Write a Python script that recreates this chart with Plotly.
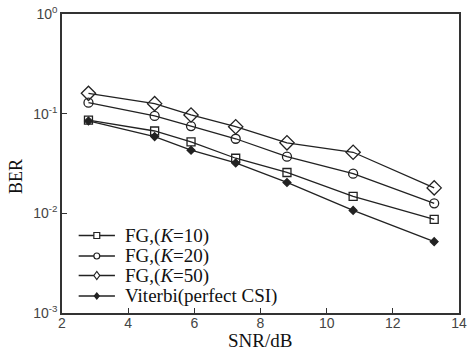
import plotly.graph_objects as go

snr = [2.8, 4.8, 5.9, 7.25, 8.8, 10.8, 13.25]
ber_k10 = [0.086, 0.067, 0.052, 0.0357, 0.0257, 0.0148, 0.0087]
ber_k20 = [0.129, 0.095, 0.075, 0.056, 0.037, 0.025, 0.0126]
ber_k50 = [0.160, 0.126, 0.097, 0.074, 0.051, 0.041, 0.018]
ber_vit = [0.0845, 0.0589, 0.043, 0.032, 0.0204, 0.0107, 0.0052]

names = ["FG,(<i>K</i>=10)", "FG,(<i>K</i>=20)", "FG,(<i>K</i>=50)", "Viterbi(perfect CSI)"]
x_ticks = [2, 4, 6, 8, 10, 12, 14]
y_ticks = [1e-3, 1e-2, 1e-1, 1]
y_labels = ["10<sup>-3</sup>", "10<sup>-2</sup>", "10<sup>-1</sup>", "10<sup>0</sup>"]

W, H = 469, 350
ML, MR, MT, MB = 62, 2, 14, 37
PW, PH = W - ML - MR, H - MT - MB


def X(px):
    return (px - ML) / PW


def Y(py):
    return (H - MB - py) / PH


lc = "#222222"
fig = go.Figure()
series = [
    (ber_k10, "square-open", 8),
    (ber_k20, "circle-open", 9),
    (ber_k50, "diamond-open", 11),
    (ber_vit, "diamond", 6),
]
for (vals, sym, sz), nm in zip(series, names):
    fig.add_trace(go.Scatter(
        x=snr, y=vals, name=nm, mode="lines+markers", showlegend=False,
        line=dict(color=lc, width=1.3),
        marker=dict(symbol=sym, size=sz, color=lc, line=dict(color=lc, width=1.3)),
    ))

# manual legend (keys as shapes, labels as annotations)
rows = [235.5, 256, 275.5, 296]
lx0, lx1, mx, tx = 79, 116, 97.5, 124
shapes = []
annotations = []
for i, (yy, nm) in enumerate(zip(rows, names)):
    shapes.append(dict(type="line", xref="paper", yref="paper",
                       x0=X(lx0), x1=X(lx1), y0=Y(yy), y1=Y(yy),
                       line=dict(color=lc, width=1.3)))
    if i == 0:
        s = 3
        shapes.append(dict(type="rect", xref="paper", yref="paper",
                           x0=X(mx - s), x1=X(mx + s), y0=Y(yy + s), y1=Y(yy - s),
                           fillcolor="white", line=dict(color=lc, width=1.2)))
    elif i == 1:
        s = 3
        shapes.append(dict(type="circle", xref="paper", yref="paper",
                           x0=X(mx - s), x1=X(mx + s), y0=Y(yy + s), y1=Y(yy - s),
                           fillcolor="white", line=dict(color=lc, width=1.2)))
    else:
        sw, sh = (3, 4) if i == 2 else (2.5, 3)
        path = "M {},{} L {},{} L {},{} L {},{} Z".format(
            X(mx - sw), Y(yy), X(mx), Y(yy - sh), X(mx + sw), Y(yy), X(mx), Y(yy + sh))
        shapes.append(dict(type="path", xref="paper", yref="paper", path=path,
                           fillcolor="white" if i == 2 else lc, line=dict(color=lc, width=1.2)))
    annotations.append(dict(text=nm, xref="paper", yref="paper", x=X(tx), y=Y(yy),
                            xanchor="left", yanchor="middle", showarrow=False,
                            font=dict(family="Liberation Serif", size=19, color="#111")))

annotations.append(dict(text="SNR/dB", xref="paper", yref="paper", x=X(264), y=Y(340),
                        xanchor="center", yanchor="middle", showarrow=False,
                        font=dict(family="Liberation Serif", size=19, color="#111")))
annotations.append(dict(text="BER", xref="paper", yref="paper", x=X(15), y=Y(176),
                        xanchor="center", yanchor="middle", showarrow=False, textangle=-90,
                        font=dict(family="Liberation Serif", size=18, color="#111")))

fig.update_layout(
    width=W, height=H,
    margin=dict(l=ML, r=MR, t=MT, b=MB),
    plot_bgcolor="white", paper_bgcolor="white",
    showlegend=False,
    shapes=shapes, annotations=annotations,
)
fig.update_xaxes(
    range=[2, 14], tickvals=x_ticks, ticks="inside", ticklen=5, tickcolor="#333",
    showline=True, linecolor="#333", linewidth=1.5, mirror=True, showgrid=False, zeroline=False,
    tickfont=dict(family="Liberation Sans", size=14, color="#444"),
    ticklabeloverflow="allow", ticklabelstandoff=-4,
)
fig.update_yaxes(
    type="log", range=[-3, 0], tickvals=y_ticks, ticktext=y_labels, ticks="inside", ticklen=5,
    tickcolor="#333", showline=True, linecolor="#333", linewidth=1.5, mirror=True, showgrid=False,
    zeroline=False,
    tickfont=dict(family="Liberation Sans", size=14, color="#444"),
)
fig.write_html("out.html")
